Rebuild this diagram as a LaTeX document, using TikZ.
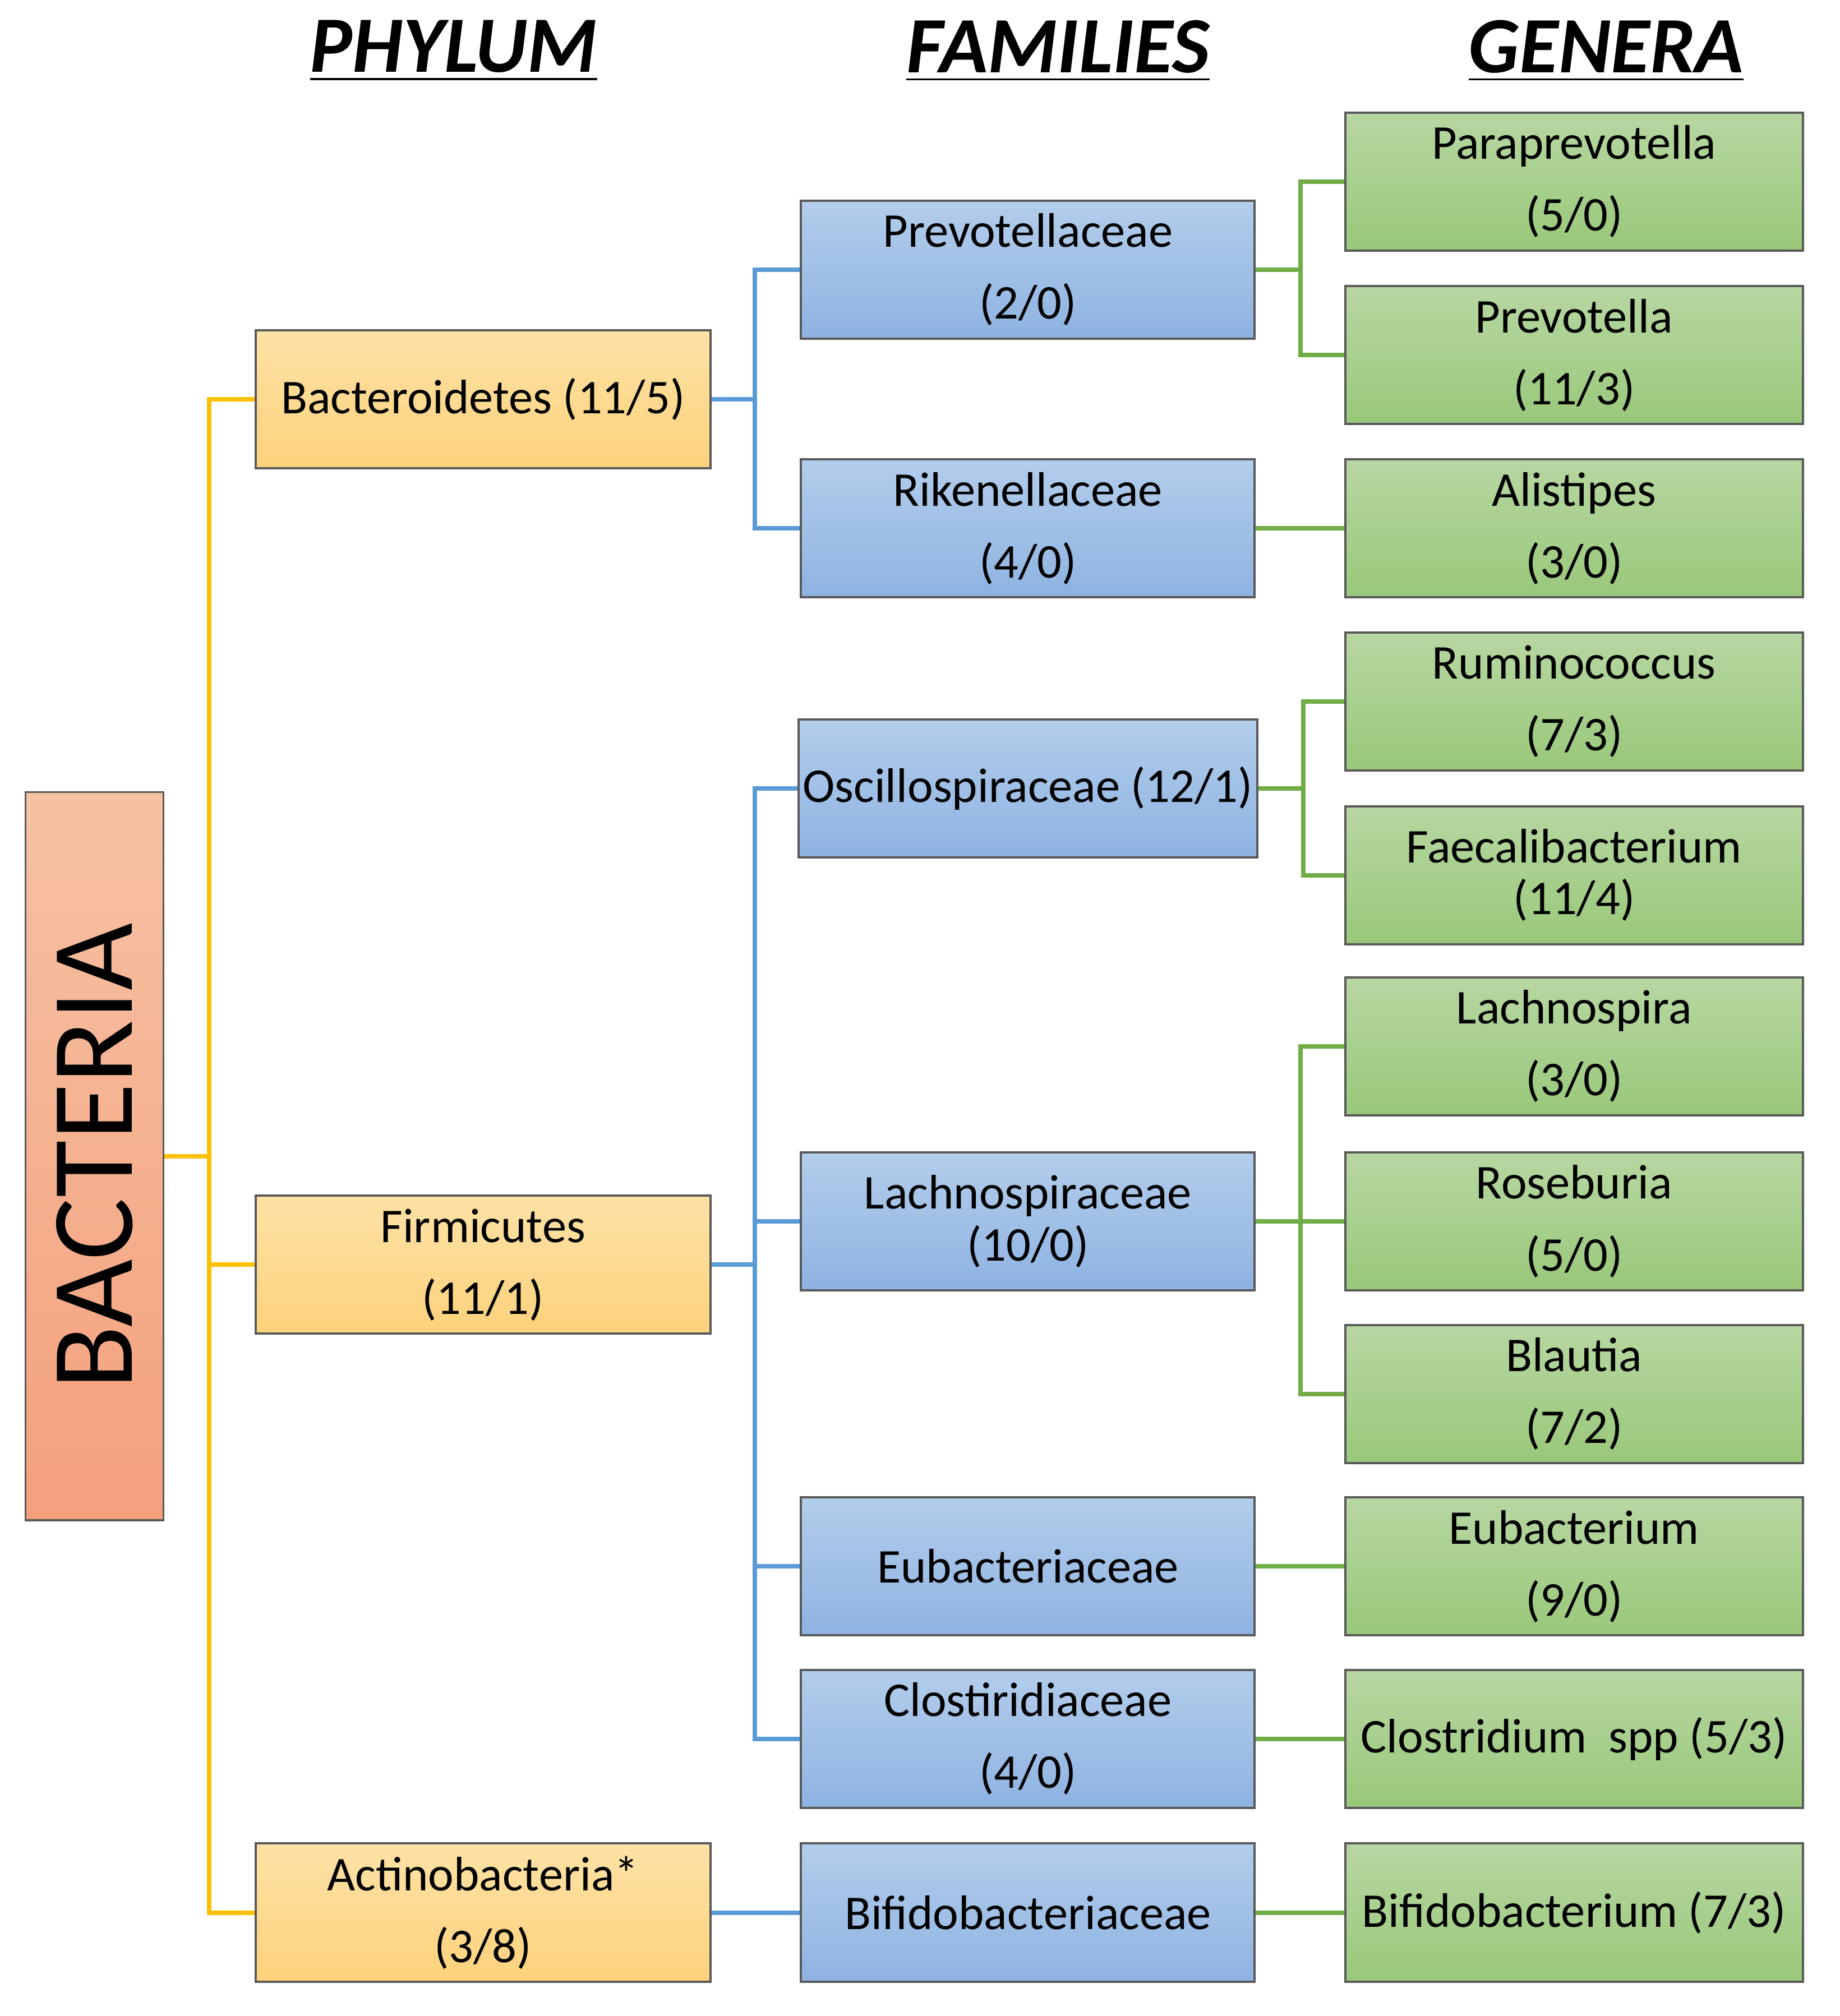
\documentclass[tikz,border=0pt]{standalone}
\usepackage{fontspec}
\setmainfont{Carlito}
\usetikzlibrary{positioning,calc}
\definecolor{phyTop}{HTML}{FDE2A6}
\definecolor{phyBot}{HTML}{FDD27C}
\definecolor{famTop}{HTML}{B3CDEB}
\definecolor{famBot}{HTML}{8EB3E2}
\definecolor{genTop}{HTML}{B7D7A2}
\definecolor{genBot}{HTML}{99C87A}
\definecolor{bacTop}{HTML}{F6C2A4}
\definecolor{bacBot}{HTML}{F4A07C}
\definecolor{lnYel}{HTML}{FFC000}
\definecolor{lnBlu}{HTML}{5B9BD5}
\definecolor{lnGrn}{HTML}{70AD47}
\tikzset{
  box/.style={draw=black!65, line width=0.5pt, align=center, minimum height=1.08cm,
    inner sep=1pt, font=\fontsize{10.8}{16}\selectfont},
  phy/.style={box, top color=phyTop, bottom color=phyBot, minimum width=3.56cm},
  fam/.style={box, top color=famTop, bottom color=famBot, minimum width=3.55cm},
  gen/.style={box, top color=genTop, bottom color=genBot, minimum width=3.58cm},
  tight/.style={font=\fontsize{10.8}{11.5}\selectfont},
  head/.style={font=\fontsize{17.8}{22}\selectfont\bfseries\itshape},
  ylw/.style={draw=lnYel, line width=1pt},
  blu/.style={draw=lnBlu, line width=1pt},
  grn/.style={draw=lnGrn, line width=1pt}
}
\begin{document}
\begin{tikzpicture}
  \useasboundingbox (0,0) rectangle (14.4,-15.78);
  % column headings
  \node[head] (hphy) at (3.55,-0.40) {\underline{PHYLUM}};
  \node[head] (hfam) at (8.28,-0.40) {\underline{FAMILIES}};
  \node[head] (hgen) at (12.57,-0.40) {\underline{GENERA}};

  % kingdom
  \node[draw=black!65, top color=bacTop, bottom color=bacBot, minimum width=1.08cm,
    minimum height=5.70cm, inner sep=0pt] (bac) at (0.74,-9.05) {};
  \node[rotate=90, font=\fontsize{26}{26}\selectfont] (bactxt) at (bac.center) {BACTERIA};

  % phyla
  \node[phy] (bact) at (3.78,-3.125) {Bacteroidetes (11/5)};
  \node[phy] (firm) at (3.78,-9.90) {Firmicutes\\(11/1)};
  \node[phy] (acti) at (3.78,-14.97) {Actinobacteria*\\(3/8)};

  % families
  \node[fam] (prev) at (8.045,-2.11) {Prevotellaceae\\(2/0)};
  \node[fam] (rike) at (8.045,-4.135) {Rikenellaceae\\(4/0)};
  \node[fam] (osci) at (8.045,-6.17) {Oscillospiraceae (12/1)};
  \node[fam, tight] (lach) at (8.045,-9.56) {Lachnospiraceae\\(10/0)};
  \node[fam] (euba) at (8.045,-12.26) {Eubacteriaceae};
  \node[fam] (clos) at (8.045,-13.61) {Clostiridiaceae\\(4/0)};
  \node[fam] (bifa) at (8.045,-14.97) {Bifidobacteriaceae};

  % genera
  \node[gen] (para) at (12.32,-1.42) {Paraprevotella\\(5/0)};
  \node[gen] (prvt) at (12.32,-2.78) {Prevotella\\(11/3)};
  \node[gen] (alis) at (12.32,-4.135) {Alistipes\\(3/0)};
  \node[gen] (rumi) at (12.32,-5.49) {Ruminococcus\\(7/3)};
  \node[gen, tight] (faec) at (12.32,-6.85) {Faecalibacterium\\(11/4)};
  \node[gen] (lasp) at (12.32,-8.19) {Lachnospira\\(3/0)};
  \node[gen] (rose) at (12.32,-9.56) {Roseburia\\(5/0)};
  \node[gen] (blau) at (12.32,-10.91) {Blautia\\(7/2)};
  \node[gen] (eubm) at (12.32,-12.26) {Eubacterium\\(9/0)};
  \node[gen] (clom) at (12.32,-13.61) {Clostridium\ \ spp (5/3)};
  \node[gen] (bifm) at (12.32,-14.97) {Bifidobacterium (7/3)};

  % kingdom to phyla
  \foreach \c in {bact,firm,acti}
    \draw[ylw] (bac.east) -- ++(0.35,0) |- (\c.west);
  % phyla to families
  \foreach \c in {prev,rike}
    \draw[blu] (bact.east) -- ++(0.34,0) |- (\c.west);
  \foreach \c in {osci,lach,euba,clos}
    \draw[blu] (firm.east) -- ++(0.34,0) |- (\c.west);
  \draw[blu] (acti.east) -- (bifa.west);
  % families to genera
  \foreach \c in {para,prvt}
    \draw[grn] (prev.east) -- ++(0.35,0) |- (\c.west);
  \draw[grn] (rike.east) -- (alis.west);
  \foreach \c in {rumi,faec}
    \draw[grn] (osci.east) -- ++(0.35,0) |- (\c.west);
  \foreach \c in {lasp,rose,blau}
    \draw[grn] (lach.east) -- ++(0.35,0) |- (\c.west);
  \draw[grn] (euba.east) -- (eubm.west);
  \draw[grn] (clos.east) -- (clom.west);
  \draw[grn] (bifa.east) -- (bifm.west);
\end{tikzpicture}
\end{document}
